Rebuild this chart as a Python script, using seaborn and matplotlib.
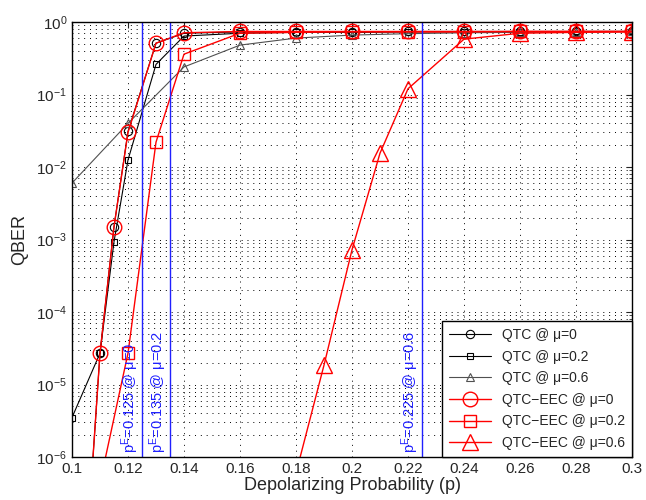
import matplotlib
matplotlib.use("Agg")
import matplotlib.pyplot as plt
import seaborn as sns
import numpy as np
from matplotlib.ticker import LogLocator, FixedLocator

# ---- data ----
x_main = [0.10, 0.11, 0.115, 0.12, 0.13, 0.14, 0.16, 0.18, 0.20, 0.22, 0.24, 0.26, 0.28, 0.30]
qtc_mu0 = [5e-11, 2.7e-5, 1.5e-3, 3.1e-2, 0.51, 0.70, 0.73, 0.73, 0.73, 0.74, 0.74, 0.74, 0.74, 0.74]
qtc_mu02 = [3.5e-6, 2.7e-5, 9.3e-4, 1.25e-2, 0.26, 0.64, 0.70, 0.72, 0.72, 0.73, 0.73, 0.73, 0.74, 0.74]

x_mu06 = [0.10, 0.12, 0.14, 0.16, 0.18, 0.20, 0.22, 0.24, 0.26, 0.28, 0.30]
qtc_mu06 = [6e-3, 0.04, 0.24, 0.48, 0.60, 0.66, 0.69, 0.71, 0.72, 0.73, 0.74]

eec_mu0 = [5e-11, 2.7e-5, 1.5e-3, 3.0e-2, 0.51, 0.71, 0.74, 0.74, 0.74, 0.74, 0.74, 0.74, 0.74, 0.74]

x_eec02 = [0.10, 0.11, 0.12, 0.13, 0.14, 0.16, 0.18, 0.20, 0.22, 0.24, 0.26, 0.28, 0.30]
eec_mu02 = [1e-9, 4.4e-7, 2.7e-5, 0.022, 0.36, 0.70, 0.72, 0.73, 0.73, 0.73, 0.74, 0.74, 0.74]

x_eec06 = [0.18, 0.19, 0.20, 0.21, 0.22, 0.24, 0.26, 0.28, 0.30]
eec_mu06 = [6e-7, 1.85e-5, 7.2e-4, 0.0155, 0.12, 0.58, 0.70, 0.72, 0.73]

thresholds = [0.125, 0.135, 0.225]
threshold_labels = ["p$^{E}$=0.125 @ μ=0", "p$^{E}$=0.135 @ μ=0.2", "p$^{E}$=0.225 @ μ=0.6"]

x_ticks = [0.10, 0.12, 0.14, 0.16, 0.18, 0.20, 0.22, 0.24, 0.26, 0.28, 0.30]
x_tick_labels = ["0.1", "0.12", "0.14", "0.16", "0.18", "0.2", "0.22", "0.24", "0.26", "0.28", "0.3"]

# ---- style ----
sns.set_style("white")
plt.rcParams['font.family'] = ['Liberation Sans', 'DejaVu Sans']
plt.rcParams['mathtext.fontset'] = 'custom'
plt.rcParams['mathtext.rm'] = 'Liberation Sans'
plt.rcParams['mathtext.it'] = 'Liberation Sans'

fig = plt.figure(figsize=(6.46, 5.0), dpi=100)
ax = fig.add_axes([72/646, 43/500, 560/646, 435/500])

series = [
    (x_main, qtc_mu0, "QTC @ μ=0", "o", "black", 6, 0.8),
    (x_main, qtc_mu02, "QTC @ μ=0.2", "s", "black", 5, 0.8),
    (x_mu06, qtc_mu06, "QTC @ μ=0.6", "^", "#505050", 6, 0.8),
    (x_main, eec_mu0, "QTC−EEC @ μ=0", "o", "red", 10.5, 1.0),
    (x_eec02, eec_mu02, "QTC−EEC @ μ=0.2", "s", "red", 9, 1.0),
    (x_eec06, eec_mu06, "QTC−EEC @ μ=0.6", "^", "red", 12, 1.0),
]
for xs, ys, lab, mk, col, ms, lw in series:
    sns.lineplot(x=xs, y=ys, ax=ax, color=col, marker=mk, markersize=ms,
                 markerfacecolor='none', markeredgecolor=col, markeredgewidth=lw,
                 linewidth=lw, estimator=None, sort=False, label=lab)

ax.set_yscale('log')
ax.set_xlim(0.1, 0.3)
ax.set_ylim(1e-6, 1)

for xv, lab in zip(thresholds, threshold_labels):
    ax.axvline(xv, color='#2020ff', linewidth=1.0)
    ax.text(xv - 0.0003, 1.15e-6, lab, rotation=90, ha='right', va='bottom',
            color='#2020ff', fontsize=10.5)

ax.xaxis.set_major_locator(FixedLocator(x_ticks))
ax.set_xticklabels(x_tick_labels)
ax.yaxis.set_major_locator(LogLocator(base=10, numticks=10))
ax.yaxis.set_minor_locator(LogLocator(base=10, subs=np.arange(2, 10), numticks=20))

ax.grid(True, which='major', axis='both', color='black', linestyle=(0, (1, 5)), linewidth=0.7)
ax.grid(True, which='minor', axis='y', color='black', linestyle=(0, (1, 5)), linewidth=0.7)
ax.set_axisbelow(True)

ax.tick_params(axis='both', which='both', direction='in', top=True, right=True, labelsize=11)
ax.tick_params(which='major', length=4)
ax.tick_params(which='minor', length=2)
for sp in ax.spines.values():
    sp.set_color('black')
    sp.set_linewidth(1.0)

ax.set_xlabel("Depolarizing Probability (p)", fontsize=13, labelpad=1)
ax.set_ylabel("QBER", fontsize=13, labelpad=6)

leg = ax.legend(loc='lower right', fontsize=10, frameon=True, fancybox=False,
                edgecolor='black', borderaxespad=0.0, handlelength=3.0,
                labelspacing=0.55, borderpad=0.5)
leg.get_frame().set_linewidth(1.0)
leg.get_frame().set_alpha(1.0)

fig.savefig("out.png", dpi=100)
